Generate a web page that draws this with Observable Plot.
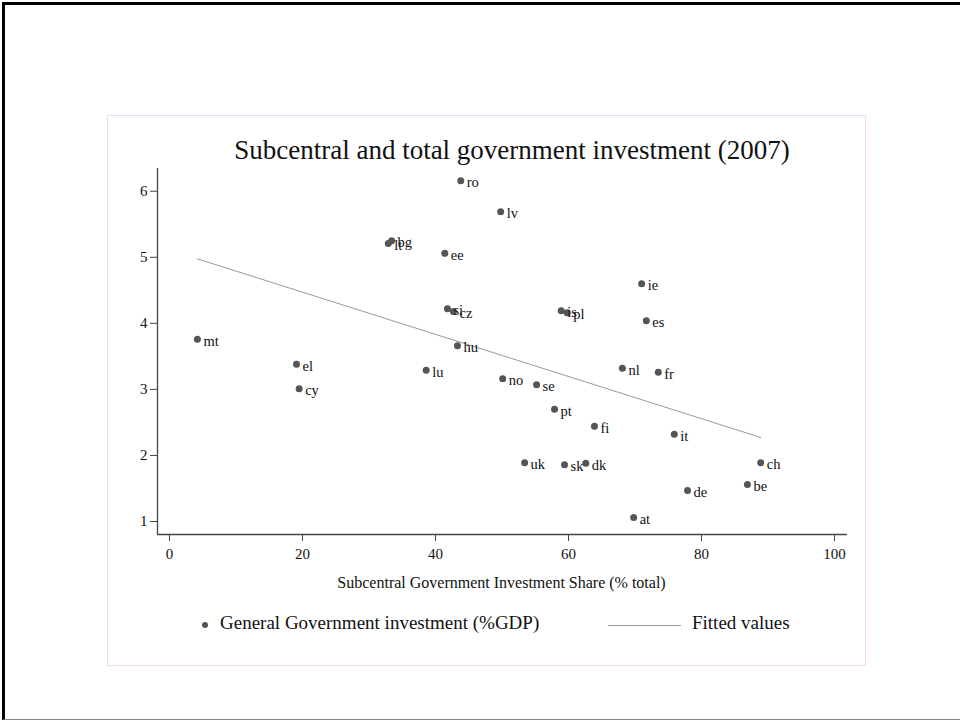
<!DOCTYPE html>
<html>
<head>
<meta charset="utf-8">
<script src="https://cdn.jsdelivr.net/npm/d3@7"></script>
<script src="https://cdn.jsdelivr.net/npm/@observablehq/plot@0.6"></script>
<style>
  html, body { margin: 0; padding: 0; background: #fff; }
  body { width: 960px; height: 721px; position: relative; overflow: hidden;
         font-family: "Liberation Serif", "DejaVu Serif", serif; color: #111; }
  #page { position: absolute; left: 2px; top: 2px; width: 958px; height: 718px;
          border-top: 3px solid #000; border-left: 3px solid #000;
          border-bottom: 1px solid #8a8a8a; box-sizing: border-box; }
  #panel { position: absolute; left: 107px; top: 115px; width: 759px; height: 551px;
           border: 1px solid #f8d8d8; box-sizing: border-box; }
  #chart { position: absolute; left: 0; top: 0; }
  #title { position: absolute; left: 212px; width: 600px; top: 135px; text-align: center;
           font-size: 27px; white-space: nowrap; }
  #xlabel { position: absolute; left: 169px; width: 665px; top: 574px; text-align: center;
            font-size: 16px; }
  .legend { position: absolute; top: 612px; font-size: 19px; white-space: nowrap; }
  .dot { position: absolute; width: 6px; height: 6px; border-radius: 50%; background: #555; }
  .swatch { position: absolute; height: 0; border-top: 1px solid #999; }
</style>
</head>
<body>
<div id="page"></div>
<div id="panel"></div>
<div id="title">Subcentral and total government investment (2007)</div>
<div id="chart"></div>
<div id="xlabel">Subcentral Government Investment Share (% total)</div>
<div class="dot" style="left:202px; top:622px;"></div>
<div class="legend" style="left:220px;">General Government investment (%GDP)</div>
<div class="swatch" style="left:608px; width:73px; top:625px;"></div>
<div class="legend" style="left:692px;">Fitted values</div>
<script>
// Country codes
const codes = ["ro","lv","bg","lt","ee","ie","si","cz","is","pl","es","mt","hu","el","nl","lu","fr","no","cy","se","pt","fi","it","uk","ch","sk","dk","de","be","at"];
// Subcentral government investment share (% of total investment)
const share = [43.8,49.8,33.4,32.9,41.4,71.0,41.8,42.7,58.9,59.8,71.7,4.2,43.3,19.1,68.1,38.6,73.5,50.1,19.5,55.2,57.9,63.9,75.9,53.4,88.9,59.4,62.6,77.9,86.9,69.8];
// General government investment (% of GDP)
const gdp = [6.16,5.69,5.25,5.21,5.06,4.60,4.22,4.18,4.19,4.16,4.04,3.76,3.66,3.38,3.32,3.29,3.26,3.16,3.01,3.07,2.70,2.44,2.32,1.89,1.89,1.86,1.88,1.47,1.56,1.06];

// Axis ticks and extents
const xTicks = [0, 20, 40, 60, 80, 100];
const yTicks = [1, 2, 3, 4, 5, 6];
const xDomain = [-1.8, 101.95];
const yDomain = [0.803, 6.344];

const data = codes.map((c, i) => ({code: c, share: share[i], gdp: gdp[i]}));

const axisColor = "#444";

const chart = Plot.plot({
  width: 960,
  height: 721,
  marginLeft: 157,
  marginRight: 113,
  marginTop: 168,
  marginBottom: 187,
  style: {fontFamily: "'Liberation Serif', 'DejaVu Serif', serif", fontSize: "14px", background: "transparent", color: "#111"},
  x: {domain: xDomain, label: null},
  y: {domain: yDomain, label: null},
  marks: [
    Plot.axisX({ticks: xTicks, tickFormat: d3.format("d"), tickSize: 7, tickPadding: 7, stroke: axisColor, fill: "#111", fontSize: 15, label: null}),
    Plot.axisY({ticks: yTicks, tickFormat: d3.format("d"), tickSize: 7, tickPadding: 3, stroke: axisColor, fill: "#111", fontSize: 15, label: null}),
    Plot.ruleY([yDomain[0]], {stroke: axisColor, strokeWidth: 1.3}),
    Plot.ruleX([xDomain[0]], {stroke: axisColor, strokeWidth: 1.3}),
    Plot.linearRegressionY(data, {x: "share", y: "gdp", ci: 0, stroke: "#999", strokeWidth: 1}),
    Plot.dot(data, {x: "share", y: "gdp", r: 3.5, fill: "#555", stroke: "none"}),
    Plot.text(data, {x: "share", y: "gdp", text: "code", textAnchor: "start", dx: 6, dy: 2, fontSize: 14.5, fill: "#111"})
  ]
});
document.getElementById("chart").appendChild(chart);
</script>
</body>
</html>
